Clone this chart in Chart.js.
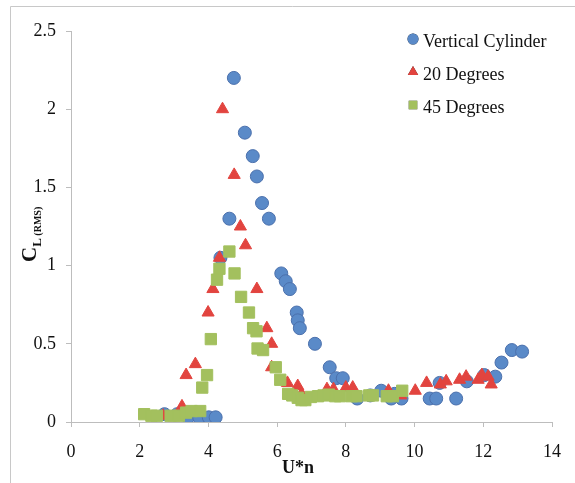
<!DOCTYPE html>
<html>
<head>
<meta charset="utf-8">
<script src="https://cdn.jsdelivr.net/npm/chart.js@4"></script>
<style>
  html, body { margin: 0; padding: 0; background: #fff; }
  #wrap { position: relative; width: 575px; height: 483px; }
</style>
</head>
<body>
<div id="wrap"><canvas id="chart" width="575" height="483"></canvas></div>
<script>
// Vertical Cylinder
const cylX = [2.72, 3.09, 3.41, 3.73, 4.01, 4.21, 4.35, 4.61, 4.74, 5.06, 5.29, 5.41, 5.56, 5.76,
  6.12, 6.25, 6.37, 6.57, 6.60, 6.66, 7.10, 7.53, 7.72, 7.91, 8.33, 8.71, 9.03, 9.32, 9.42, 9.62,
  10.44, 10.63, 10.73, 11.21, 11.52, 12.03, 12.35, 12.53, 12.83, 13.13];
const cylY = [0.05, 0.05, 0.03, 0.03, 0.03, 0.03, 1.05, 1.30, 2.20, 1.85, 1.70, 1.57, 1.40, 1.30,
  0.95, 0.90, 0.85, 0.70, 0.65, 0.60, 0.50, 0.35, 0.28, 0.28, 0.15, 0.17, 0.20, 0.15, 0.18, 0.15,
  0.15, 0.15, 0.25, 0.15, 0.26, 0.30, 0.29, 0.38, 0.46, 0.45];

// 20 Degrees
const deg20X = [2.68, 3.00, 3.23, 3.35, 3.62, 3.99, 4.13, 4.32, 4.41, 4.75, 4.93, 5.08, 5.41, 5.70,
  5.84, 5.84, 6.30, 6.60, 6.71, 7.45, 7.64, 8.00, 8.20, 9.24, 9.60, 10.02, 10.35, 10.75, 10.92,
  11.31, 11.50, 11.85, 11.96, 12.14, 12.23];
const deg20Y = [0.04, 0.03, 0.10, 0.30, 0.37, 0.70, 0.85, 1.05, 2.00, 1.58, 1.25, 1.13, 0.85, 0.60,
  0.50, 0.35, 0.25, 0.23, 0.18, 0.21, 0.21, 0.22, 0.22, 0.20, 0.17, 0.20, 0.25, 0.24, 0.26,
  0.27, 0.29, 0.27, 0.30, 0.29, 0.24];

// 45 Degrees
const deg45X = [2.13, 2.34, 2.50, 2.90, 3.14, 3.35, 3.51, 3.76, 3.82, 3.96, 4.07, 4.25, 4.32, 4.61,
  4.76, 4.95, 5.18, 5.30, 5.40, 5.43, 5.59, 5.96, 6.09, 6.32, 6.44, 6.60, 6.71, 6.82, 6.98, 7.19,
  7.35, 7.51, 7.69, 7.83, 8.17, 8.31, 8.68, 8.79, 9.19, 9.37, 9.64];
const deg45Y = [0.05, 0.04, 0.04, 0.04, 0.04, 0.06, 0.07, 0.07, 0.22, 0.30, 0.53, 0.91, 0.98, 1.09,
  0.95, 0.80, 0.70, 0.60, 0.58, 0.47, 0.46, 0.35, 0.27, 0.18, 0.17, 0.155, 0.14, 0.14, 0.16, 0.165,
  0.17, 0.175, 0.165, 0.165, 0.165, 0.165, 0.17, 0.17, 0.165, 0.165, 0.20];

const seriesNames = ['Vertical Cylinder', '20 Degrees', '45 Degrees'];

const pts = (xs, ys) => xs.map((x, i) => ({ x, y: ys[i] }));
const SERIF = "'Liberation Serif', 'Times New Roman', serif";
const AXIS = '#BDBDBD';

const styles = [
  { pointStyle: 'circle',   radius: 6.5, bg: '#5A8AC8', border: '#4B70AC', lg: 5.5 },
  { pointStyle: 'triangle', radius: 7,   bg: '#E2443F', border: '#E2443F', lg: 6 },
  { pointStyle: 'rect',     radius: 8,   bg: '#A3C05E', border: '#A3C05E', lg: 6 }
];

const overlay = {
  id: 'overlay',
  afterDraw(chart) {
    const ctx = chart.ctx;
    ctx.save();
    // frame of the picture
    ctx.strokeStyle = '#C8C8C8';
    ctx.lineWidth = 1;
    ctx.beginPath();
    ctx.moveTo(10.5, 483); ctx.lineTo(10.5, 6.5); ctx.lineTo(575, 6.5);
    ctx.stroke();

    // legend
    const rows = [41, 74, 107];
    seriesNames.forEach((name, i) => {
      const s = styles[i];
      Chart.helpers.drawPoint(ctx, { pointStyle: s.pointStyle, radius: s.lg, rotation: 0, borderWidth: 0 }, 413, rows[i] - 2);
      ctx.fillStyle = s.bg;
      ctx.fill();
      ctx.fillStyle = '#111';
      ctx.font = '18px ' + SERIF;
      ctx.textBaseline = 'middle';
      ctx.textAlign = 'left';
      ctx.fillText(name, 423, rows[i] + 1);
    });

    // x title
    ctx.font = 'bold 18px ' + SERIF;
    ctx.textAlign = 'center';
    ctx.fillText('U*n', 298, 468);

    // y title with subscript
    ctx.translate(36, 262);
    ctx.rotate(-Math.PI / 2);
    ctx.textAlign = 'left';
    ctx.textBaseline = 'alphabetic';
    ctx.font = 'bold 21px ' + SERIF;
    ctx.fillText('C', 0, 0);
    const w = ctx.measureText('C').width;
    ctx.font = 'bold 13px ' + SERIF;
    ctx.fillText('L', w, 5);
    const wl = ctx.measureText('L').width;
    ctx.font = 'bold 10px ' + SERIF;
    ctx.fillText(' (RMS)', w + wl, 5);
    ctx.restore();
  }
};

new Chart(document.getElementById('chart'), {
  type: 'scatter',
  data: {
    datasets: [
      { label: seriesNames[0], data: pts(cylX, cylY), order: 3 },
      { label: seriesNames[1], data: pts(deg20X, deg20Y), order: 2 },
      { label: seriesNames[2], data: pts(deg45X, deg45Y), order: 1 }
    ].map((d, i) => Object.assign(d, {
      pointStyle: styles[i].pointStyle,
      pointRadius: styles[i].radius,
      pointBackgroundColor: styles[i].bg,
      pointBorderColor: styles[i].border,
      pointBorderWidth: 1
    }))
  },
  options: {
    responsive: false,
    animation: false,
    layout: { padding: { top: 31, right: 21, left: 0, bottom: 0 } },
    plugins: { legend: { display: false }, tooltip: { enabled: false } },
    scales: {
      x: {
        min: 0, max: 14,
        afterFit: s => { s.height = 61; },
        ticks: { stepSize: 2, color: '#111', padding: 14, font: { family: SERIF, size: 18 } },
        grid: { drawOnChartArea: false, color: AXIS, tickLength: 5 },
        border: { color: AXIS }
      },
      y: {
        min: 0, max: 2.5,
        afterFit: s => { s.width = 71; },
        ticks: { stepSize: 0.5, color: '#111', padding: 10, font: { family: SERIF, size: 18 },
          callback: v => String(+v.toFixed(1)) },
        grid: { drawOnChartArea: false, color: AXIS, tickLength: 5 },
        border: { color: AXIS }
      }
    }
  },
  plugins: [overlay]
});
</script>
</body>
</html>
